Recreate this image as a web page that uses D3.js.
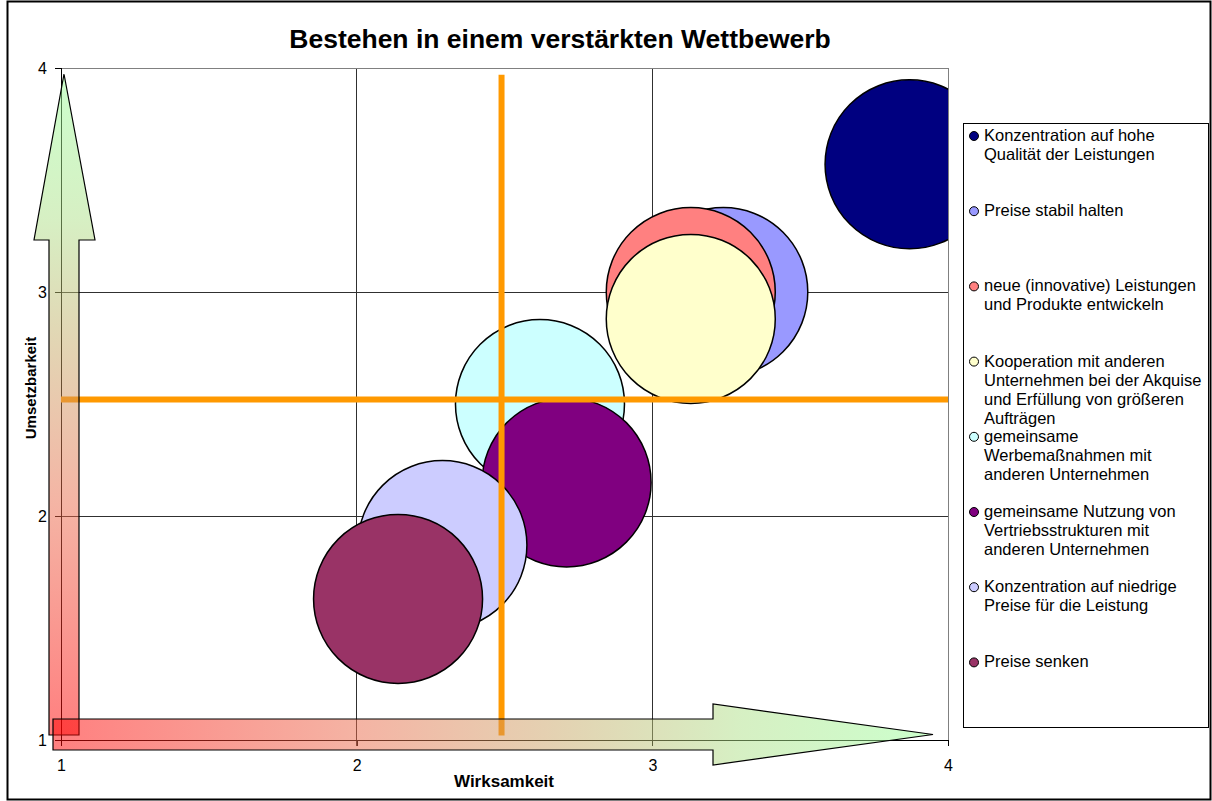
<!DOCTYPE html>
<html>
<head>
<meta charset="utf-8">
<script src="https://cdn.jsdelivr.net/npm/d3@7"></script>
<style>
    html, body { margin: 0; padding: 0; background: #fff; }
    svg { display: block; font-family: "Liberation Sans", Arial, sans-serif; }
</style>
</head>
<body>
<div id="chart"></div>
<script>
/*
 * Chart data.
 */
var title = 'Bestehen in einem verstärkten Wettbewerb';
var xTitle = 'Wirksamkeit';
var yTitle = 'Umsetzbarkeit';
var seriesNames = [
    'Konzentration auf hohe\nQualität der Leistungen',
    'Preise stabil halten',
    'neue (innovative) Leistungen\nund Produkte entwickeln',
    'Kooperation mit anderen\nUnternehmen bei der Akquise\nund Erfüllung von größeren\nAufträgen',
    'gemeinsame\nWerbemaßnahmen mit\nanderen Unternehmen',
    'gemeinsame Nutzung von\nVertriebsstrukturen mit\nanderen Unternehmen',
    'Konzentration auf niedrige\nPreise für die Leistung',
    'Preise senken'
];
var xValues = [3.87, 3.24, 3.13, 3.13, 2.62, 2.71, 2.29, 2.14];
var yValues = [3.57, 3.00, 3.00, 2.88, 2.50, 2.15, 1.87, 1.63];
var sizeValues = [4, 4, 4, 4, 4, 4, 4, 4];
var seriesColors = ['#000080', '#9999ff', '#ff8080', '#ffffcc', '#ccffff', '#800080', '#ccccff', '#993366'];
var tickValues = [1, 2, 3, 4];
/*
 * Orange threshold lines (data units).
 */
var thresholdX = 2.49;
var thresholdY = 2.52;

/*
 * Layout.
 */
var width = 1212;
var height = 801;
var plot = { left: 61, right: 948, top: 68, bottom: 740 };
var maxRadius = 84.5;

var svg = d3.select('#chart').append('svg')
    .attr('width', width)
    .attr('height', height);

var defs = svg.append('defs');

/*
 * Scales.
 */
var x = d3.scaleLinear().domain([1, 4]).range([plot.left, plot.right]);
var y = d3.scaleLinear().domain([1, 4]).range([plot.bottom, plot.top]);
var r = d3.scaleSqrt().domain([0, d3.max(sizeValues)]).range([0, maxRadius]);

/*
 * Outer frame.
 */
svg.append('rect')
    .attr('x', 7.5)
    .attr('y', 1.5)
    .attr('width', width - 9)
    .attr('height', height - 3)
    .attr('fill', '#fff')
    .attr('stroke', '#000')
    .attr('stroke-width', 2);

/*
 * Title.
 */
svg.append('text')
    .attr('x', 560)
    .attr('y', 48)
    .attr('text-anchor', 'middle')
    .style('font-size', '26.5px')
    .style('font-weight', 'bold')
    .text(title);

/*
 * Grid lines.
 */
var grid = svg.append('g');

grid.selectAll('.vgrid')
    .data(tickValues.slice(1, -1))
    .enter().append('line')
    .attr('x1', d => x(d)).attr('x2', d => x(d))
    .attr('y1', plot.top).attr('y2', plot.bottom + 6)
    .attr('stroke', '#303030')
    .attr('stroke-width', 1)
    .attr('shape-rendering', 'crispEdges');

grid.selectAll('.hgrid')
    .data(tickValues.slice(1, -1))
    .enter().append('line')
    .attr('x1', plot.left - 6).attr('x2', plot.right)
    .attr('y1', d => y(d)).attr('y2', d => y(d))
    .attr('stroke', '#303030')
    .attr('stroke-width', 1)
    .attr('shape-rendering', 'crispEdges');

/*
 * Plot area border (top and right) in grey.
 */
grid.append('path')
    .attr('d', 'M' + (plot.left - 6) + ',' + plot.top + 'H' + plot.right + 'V' + (plot.bottom + 6))
    .attr('fill', 'none')
    .attr('stroke', '#808080')
    .attr('shape-rendering', 'crispEdges');

/*
 * Axes.
 */
var xAxis = svg.append('g')
    .attr('transform', 'translate(0,' + plot.bottom + ')')
    .call(d3.axisBottom(x).tickValues(tickValues).tickSize(6).tickFormat(d3.format('d')));

var yAxis = svg.append('g')
    .attr('transform', 'translate(' + plot.left + ',0)')
    .call(d3.axisLeft(y).tickValues(tickValues).tickSize(6).tickFormat(d3.format('d')));

[xAxis, yAxis].forEach(function(axis) {
    axis.select('.domain').attr('stroke', '#000').attr('shape-rendering', 'crispEdges');
    axis.selectAll('.tick line').attr('stroke', '#000').attr('shape-rendering', 'crispEdges');
    axis.selectAll('.tick text')
        .attr('fill', '#000')
        .style('font-size', '16px')
        .style('font-family', '"Liberation Sans", Arial, sans-serif');
});
xAxis.selectAll('.tick text').attr('y', 20);
yAxis.selectAll('.tick text').attr('x', -14);

/*
 * Axis titles.
 */
svg.append('text')
    .attr('x', 504)
    .attr('y', 787)
    .attr('text-anchor', 'middle')
    .style('font-size', '17px')
    .style('font-weight', 'bold')
    .text(xTitle);

svg.append('text')
    .attr('transform', 'translate(36,388) rotate(-90)')
    .attr('text-anchor', 'middle')
    .style('font-size', '15px')
    .style('font-weight', 'bold')
    .text(yTitle);

/*
 * Bubbles, clipped to plot area.
 */
defs.append('clipPath')
    .attr('id', 'plot-clip')
    .append('rect')
    .attr('x', plot.left)
    .attr('y', plot.top)
    .attr('width', plot.right - plot.left)
    .attr('height', plot.bottom - plot.top);

svg.append('g')
    .attr('clip-path', 'url(#plot-clip)')
    .selectAll('circle')
    .data(seriesNames)
    .enter().append('circle')
    .attr('cx', (d, i) => x(xValues[i]))
    .attr('cy', (d, i) => y(yValues[i]))
    .attr('r', (d, i) => r(sizeValues[i]))
    .attr('fill', (d, i) => seriesColors[i])
    .attr('stroke', '#000')
    .attr('stroke-width', 1.5);

/*
 * Orange threshold lines.
 */
svg.append('line')
    .attr('x1', x(thresholdX)).attr('x2', x(thresholdX))
    .attr('y1', y(3.97)).attr('y2', y(1.02))
    .attr('stroke', '#ff9900')
    .attr('stroke-width', 6);

svg.append('line')
    .attr('x1', x(1)).attr('x2', x(4))
    .attr('y1', y(thresholdY)).attr('y2', y(thresholdY))
    .attr('stroke', '#ff9900')
    .attr('stroke-width', 6);

/*
 * Gradient arrows: red to light green, half transparent.
 */
var gradientStops = [
    [0, '#ff0000'],
    [0.35, '#ea6a4a'],
    [0.6, '#c5ad69'],
    [0.78, '#aee088'],
    [1, '#99ff99']
];

function addGradient(id, x1, y1, x2, y2) {
    var g = defs.append('linearGradient')
        .attr('id', id)
        .attr('gradientUnits', 'userSpaceOnUse')
        .attr('x1', x1).attr('y1', y1)
        .attr('x2', x2).attr('y2', y2);
    gradientStops.forEach(function(s) {
        g.append('stop').attr('offset', s[0]).attr('stop-color', s[1]);
    });
}

addGradient('grad-v', 0, 735, 0, 74);
addGradient('grad-h', 53, 0, 933, 0);

var vArrow = [
    [49, 735], [49, 240], [34, 240], [64, 74], [95, 240], [79, 240], [79, 735]
];
var hArrow = [
    [53, 719], [713, 719], [713, 704], [933, 734.5], [713, 765], [713, 750], [53, 750]
];

svg.append('path')
    .attr('d', d3.line()(vArrow) + 'Z')
    .attr('fill', 'url(#grad-v)')
    .attr('fill-opacity', 0.5)
    .attr('stroke', '#000')
    .attr('stroke-width', 1.2);

svg.append('path')
    .attr('d', d3.line()(hArrow) + 'Z')
    .attr('fill', 'url(#grad-h)')
    .attr('fill-opacity', 0.5)
    .attr('stroke', '#000')
    .attr('stroke-width', 1.2);

/*
 * Legend.
 */
var legend = svg.append('g');

legend.append('rect')
    .attr('x', 963.5)
    .attr('y', 123.5)
    .attr('width', 245)
    .attr('height', 604)
    .attr('fill', '#fff')
    .attr('stroke', '#000')
    .attr('stroke-width', 1);

var items = legend.selectAll('.item')
    .data(seriesNames)
    .enter().append('g')
    .attr('transform', (d, i) => 'translate(0,' + (141 + i * 75.2) + ')');

items.append('circle')
    .attr('cx', 974)
    .attr('cy', -5)
    .attr('r', 4.5)
    .attr('fill', (d, i) => seriesColors[i])
    .attr('stroke', '#000')
    .attr('stroke-width', 1);

items.append('text')
    .style('font-size', '16.5px')
    .selectAll('tspan')
    .data(d => d.split('\n'))
    .enter().append('tspan')
    .attr('x', 984)
    .attr('y', (d, i) => i * 19)
    .text(d => d);
</script>
</body>
</html>
